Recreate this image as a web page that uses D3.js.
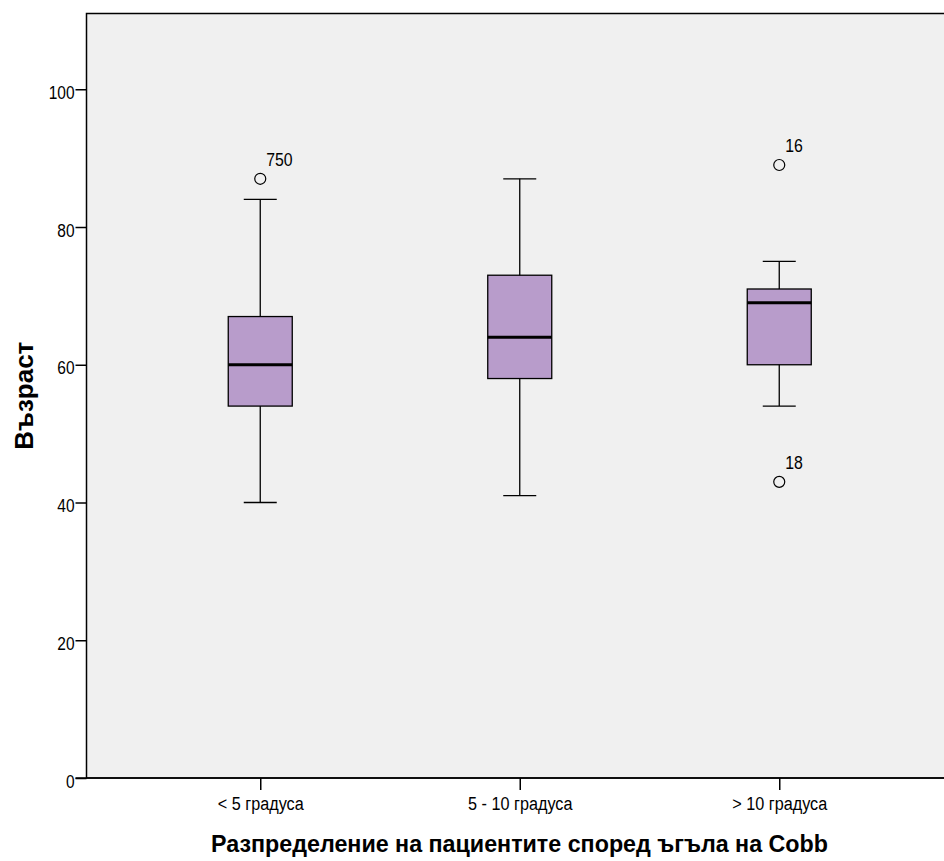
<!DOCTYPE html>
<html>
<head>
<meta charset="utf-8">
<script src="https://cdn.jsdelivr.net/npm/d3@7"></script>
<style>
  body { margin: 0; background: #fff; }
  text { font-family: "Liberation Sans", Arial, sans-serif; }
</style>
</head>
<body>
<div id="chart"></div>
<script>
// box plot data
const categories = ["< 5 градуса", "5 - 10 градуса", "> 10 градуса"];
const whiskerLow = [40, 41, 54];
const q1 = [54, 58, 60];
const median = [60, 64, 69];
const q3 = [67, 73, 71];
const whiskerHigh = [84, 87, 75];
const outliers = [
    { group: 0, value: 87, label: "750" },
    { group: 2, value: 89, label: "16" },
    { group: 2, value: 43, label: "18" }
];
const yTicks = [0, 20, 40, 60, 80, 100];

const width = 944, height = 861;
const plotLeft = 86.5, plotTop = 13.5, plotBottom = 778;

// the original uses a narrow font; squeeze the regular one to fit
function condense(sel, k) {
    sel.each(function() {
        const w = this.getComputedTextLength();
        d3.select(this)
            .attr("textLength", w * k)
            .attr("lengthAdjust", "spacingAndGlyphs");
    });
}

const svg = d3.select("#chart").append("svg")
    .attr("width", width)
    .attr("height", height);

const x = d3.scalePoint()
    .domain(categories)
    .range([130.5, 909])
    .padding(0.5);

const y = d3.scaleLinear()
    .domain([0, 111])
    .range([plotBottom, plotTop]);

// plot background
svg.append("rect")
    .attr("x", plotLeft)
    .attr("y", plotTop)
    .attr("width", width + 20 - plotLeft)
    .attr("height", plotBottom - plotTop)
    .attr("fill", "#f0f0f0")
    .attr("stroke", "#000")
    .attr("stroke-width", 1.5);

// axes
const yAxis = svg.append("g")
    .attr("transform", `translate(${plotLeft},0)`)
    .call(d3.axisLeft(y).tickValues(yTicks).tickSize(11).tickPadding(1));
yAxis.select(".domain").remove();
yAxis.selectAll("line").attr("stroke-width", 1.5);
yAxis.selectAll("text").attr("font-size", 18).attr("dy", "0.5em").attr("fill", "#000")
    .call(condense, 0.86);

const xAxis = svg.append("g")
    .attr("transform", `translate(0,${plotBottom})`)
    .call(d3.axisBottom(x).tickSize(12).tickPadding(0));
xAxis.select(".domain").remove();
xAxis.selectAll("line").attr("stroke-width", 1.5);
xAxis.selectAll("text").attr("font-size", 18).attr("dy", null).attr("y", 32).attr("fill", "#000")
    .call(condense, 0.9);

// bottom line over everything
svg.append("line")
    .attr("x1", plotLeft - 11).attr("x2", width)
    .attr("y1", plotBottom).attr("y2", plotBottom)
    .attr("stroke", "#000").attr("stroke-width", 1.5);

const boxW = 64, capW = 33;

const groups = svg.selectAll(".box")
    .data(categories)
    .enter().append("g")
    .attr("class", "box");

// whiskers
groups.append("line")
    .attr("x1", d => x(d)).attr("x2", d => x(d))
    .attr("y1", (d, i) => y(whiskerLow[i]))
    .attr("y2", (d, i) => y(whiskerHigh[i]))
    .attr("stroke", "#000").attr("stroke-width", 1.3);

[whiskerLow, whiskerHigh].forEach(arr => {
    groups.append("line")
        .attr("x1", d => x(d) - capW / 2).attr("x2", d => x(d) + capW / 2)
        .attr("y1", (d, i) => y(arr[i])).attr("y2", (d, i) => y(arr[i]))
        .attr("stroke", "#000").attr("stroke-width", 1.3);
});

// boxes
groups.append("rect")
    .attr("x", d => x(d) - boxW / 2)
    .attr("width", boxW)
    .attr("y", (d, i) => y(q3[i]))
    .attr("height", (d, i) => y(q1[i]) - y(q3[i]))
    .attr("fill", "#b89ccb")
    .attr("stroke", "#000")
    .attr("stroke-width", 1.3);

// medians
groups.append("line")
    .attr("x1", d => x(d) - boxW / 2).attr("x2", d => x(d) + boxW / 2)
    .attr("y1", (d, i) => y(median[i])).attr("y2", (d, i) => y(median[i]))
    .attr("stroke", "#000").attr("stroke-width", 3);

// outliers
svg.selectAll(".outlier")
    .data(outliers)
    .enter().append("circle")
    .attr("cx", d => x(categories[d.group]))
    .attr("cy", d => y(d.value))
    .attr("r", 5.5)
    .attr("fill", "none")
    .attr("stroke", "#000")
    .attr("stroke-width", 1.2);

svg.selectAll(".olabel")
    .data(outliers)
    .enter().append("text")
    .attr("x", d => x(categories[d.group]) + 6)
    .attr("y", d => y(d.value) - 13)
    .attr("font-size", 18)
    .text(d => d.label)
    .call(condense, 0.88);

// axis titles
svg.append("text")
    .attr("x", 519.5)
    .attr("y", 852)
    .attr("text-anchor", "middle")
    .attr("font-size", 24)
    .attr("font-weight", "bold")
    .text("Разпределение на пациентите според ъгъла на Cobb")
    .attr("textLength", 617)
    .attr("lengthAdjust", "spacingAndGlyphs");

svg.append("text")
    .attr("transform", `translate(33,${(plotTop + plotBottom) / 2}) rotate(-90)`)
    .attr("text-anchor", "middle")
    .attr("font-size", 26)
    .attr("font-weight", "bold")
    .text("Възраст");
</script>
</body>
</html>
